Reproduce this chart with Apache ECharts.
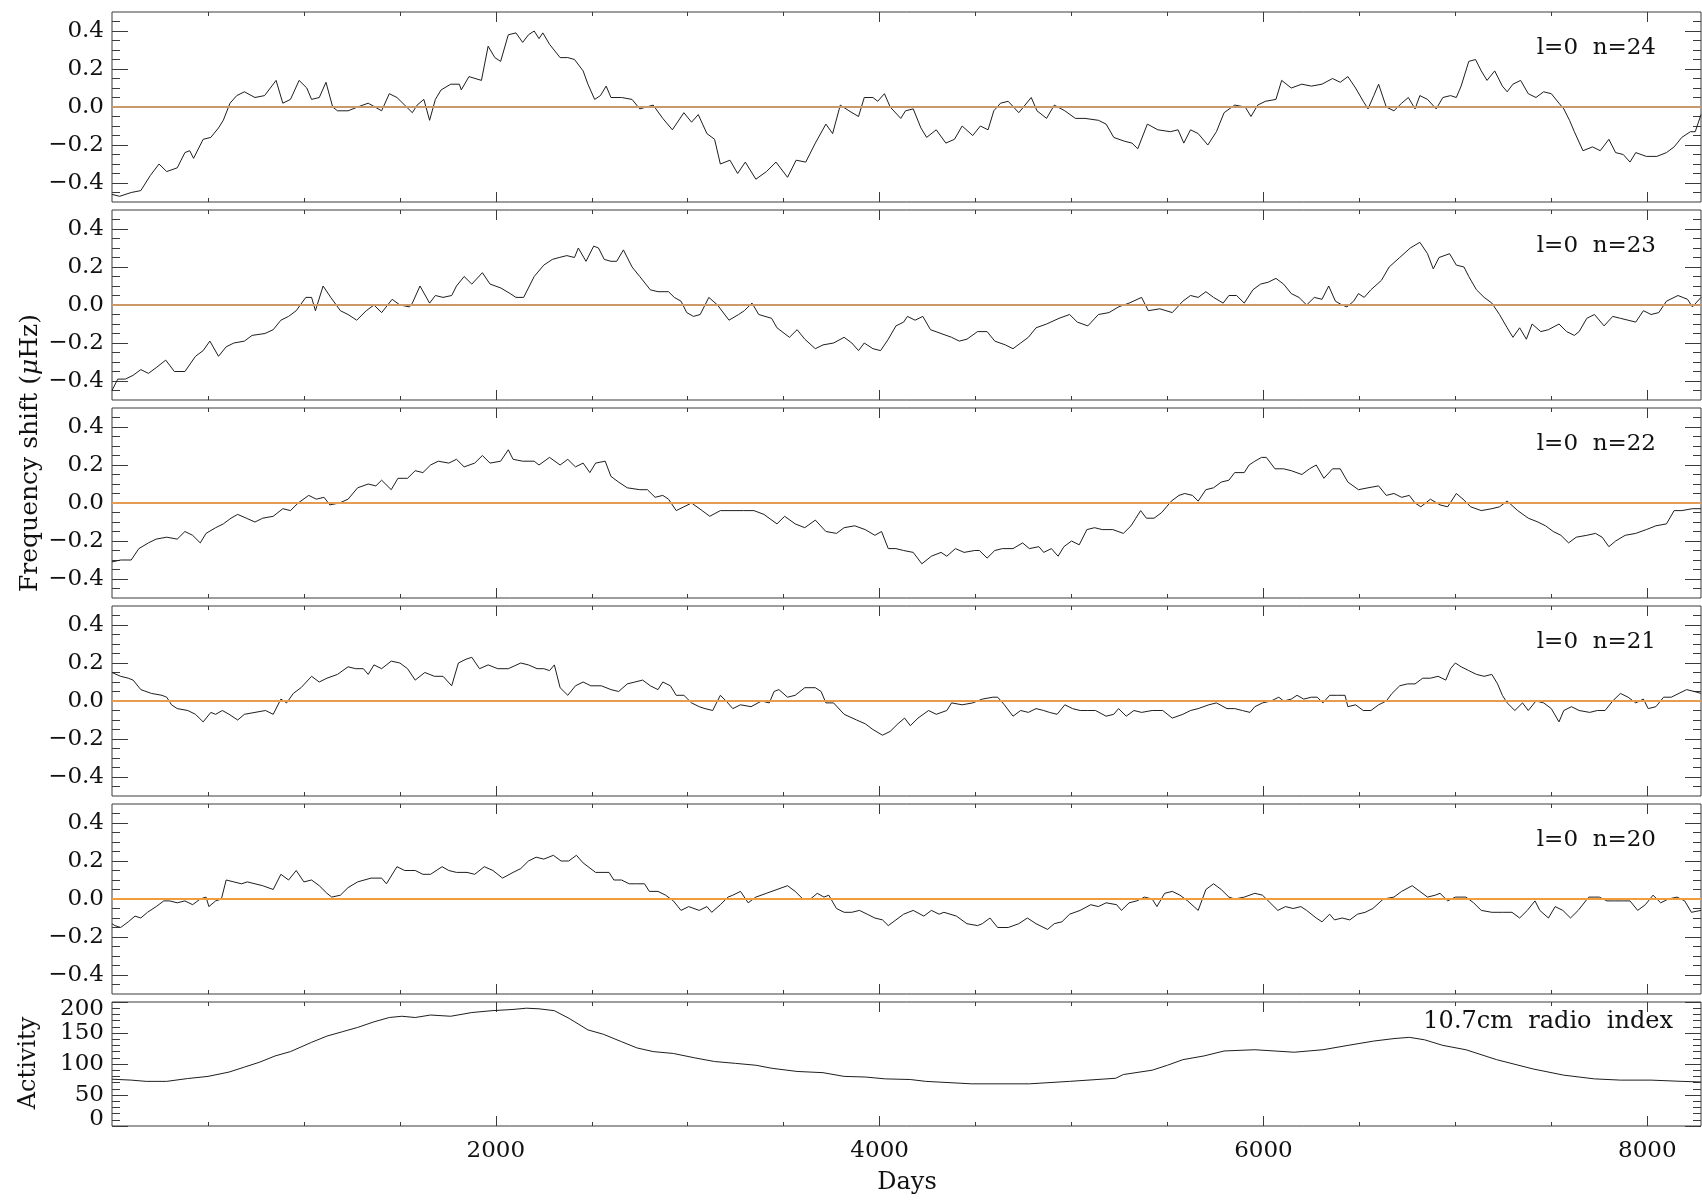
<!DOCTYPE html>
<html>
<head>
<meta charset="utf-8">
<title>Frequency shifts of l=0 modes and solar activity</title>
<script src="https://cdn.jsdelivr.net/npm/echarts@6/dist/echarts.min.js"></script>
<style>
  html, body { margin: 0; padding: 0; background: #fff; }
  #chart { width: 1702px; height: 1203px; }
</style>
</head>
<body>
<div id="chart"></div>
<script>
// ---- data: [day, frequency shift in microHz] ----
const n24 = [[0,-0.46],[40,-0.47],[100,-0.45],[150,-0.44],[200,-0.36],[245,-0.30],[285,-0.34],[340,-0.32],[380,-0.24],[405,-0.23],[425,-0.27],[475,-0.17],[515,-0.16],[555,-0.11],[580,-0.07],[615,0.02],[650,0.06],[690,0.08],[745,0.05],[795,0.06],[825,0.10],[855,0.14],[890,0.02],[930,0.04],[975,0.14],[1015,0.10],[1040,0.04],[1080,0.05],[1115,0.13],[1150,0.00],[1175,-0.02],[1230,-0.02],[1280,0.00],[1335,0.02],[1405,-0.02],[1445,0.07],[1485,0.05],[1525,0.01],[1565,-0.03],[1590,0.01],[1625,0.04],[1655,-0.07],[1685,0.04],[1715,0.09],[1765,0.12],[1810,0.12],[1820,0.09],[1860,0.16],[1925,0.14],[1960,0.32],[1995,0.26],[2025,0.24],[2065,0.38],[2105,0.39],[2140,0.34],[2170,0.38],[2200,0.40],[2225,0.36],[2245,0.39],[2280,0.33],[2335,0.26],[2375,0.26],[2410,0.25],[2455,0.19],[2480,0.12],[2515,0.04],[2545,0.06],[2575,0.11],[2600,0.05],[2655,0.05],[2710,0.04],[2750,-0.01],[2820,0.01],[2870,-0.06],[2920,-0.12],[2980,-0.03],[3020,-0.08],[3055,-0.04],[3100,-0.14],[3140,-0.17],[3170,-0.30],[3220,-0.28],[3260,-0.35],[3300,-0.29],[3355,-0.38],[3410,-0.34],[3460,-0.29],[3520,-0.37],[3565,-0.28],[3615,-0.29],[3665,-0.19],[3720,-0.09],[3755,-0.14],[3795,0.01],[3840,-0.02],[3890,-0.05],[3920,0.05],[3965,0.05],[3990,0.03],[4025,0.07],[4055,0.00],[4110,-0.06],
  [4135,-0.02],[4175,-0.01],[4215,-0.11],[4245,-0.16],[4295,-0.12],[4345,-0.19],[4390,-0.17],[4430,-0.10],[4485,-0.15],[4525,-0.10],[4565,-0.12],[4595,-0.02],[4630,0.02],[4670,0.03],[4725,-0.03],[4790,0.05],[4820,-0.02],[4870,-0.06],[4910,0.01],[4965,-0.02],[5020,-0.06],[5070,-0.06],[5140,-0.07],[5180,-0.09],[5220,-0.16],[5275,-0.18],[5315,-0.19],[5345,-0.22],[5395,-0.09],[5450,-0.12],[5515,-0.13],[5555,-0.12],[5585,-0.19],[5620,-0.12],[5660,-0.14],[5710,-0.20],[5755,-0.13],[5795,-0.03],[5850,0.01],[5905,0.00],[5935,-0.05],[5970,0.01],[6010,0.03],[6065,0.04],[6095,0.14],[6145,0.10],[6200,0.12],[6250,0.11],[6305,0.12],[6360,0.15],[6400,0.13],[6440,0.16],[6480,0.10],[6520,0.03],[6545,-0.01],[6575,0.06],[6600,0.12],[6640,0.00],[6680,-0.02],[6720,0.02],[6755,0.05],[6790,-0.01],[6815,0.06],[6855,0.04],[6900,-0.01],[6935,0.05],[6975,0.06],[7005,0.05],[7030,0.11],[7070,0.24],[7105,0.25],[7135,0.19],[7165,0.14],[7205,0.19],[7245,0.11],[7270,0.08],[7300,0.12],[7340,0.14],[7380,0.07],[7420,0.05],[7460,0.08],[7500,0.07],[7540,0.02],[7565,-0.01],[7595,-0.07],[7620,-0.13],[7665,-0.23],[7715,-0.21],[7755,-0.23],[7800,-0.17],[7835,-0.24],[7875,-0.25],[7910,-0.29],[7940,-0.24],[7995,-0.26],[8050,-0.26],[8100,-0.24],[8140,-0.21],[8180,-0.16],[8225,-0.13],[8250,-0.13],[8280,-0.04]];

const n23 = [[0,-0.45],[30,-0.39],[70,-0.39],[110,-0.37],[150,-0.34],[190,-0.36],[230,-0.33],[280,-0.29],[325,-0.35],[380,-0.35],[435,-0.27],[475,-0.24],[510,-0.19],[555,-0.27],[595,-0.22],[635,-0.20],[690,-0.19],[730,-0.16],[797,-0.15],[840,-0.13],[880,-0.08],[920,-0.06],[960,-0.03],[1010,0.04],[1040,0.04],[1060,-0.03],[1100,0.10],[1140,0.04],[1190,-0.03],[1230,-0.05],[1275,-0.08],[1325,-0.03],[1365,0.00],[1405,-0.04],[1460,0.03],[1500,0.00],[1550,-0.01],[1565,0.01],[1605,0.10],[1655,0.01],[1685,0.05],[1725,0.04],[1770,0.05],[1795,0.10],[1835,0.15],[1875,0.11],[1930,0.17],[1970,0.11],[2025,0.09],[2075,0.06],[2105,0.04],[2145,0.04],[2200,0.15],[2250,0.21],[2295,0.24],[2330,0.25],[2370,0.26],[2410,0.25],[2430,0.30],[2470,0.23],[2510,0.31],[2535,0.30],[2565,0.24],[2600,0.23],[2630,0.23],[2665,0.29],[2710,0.20],[2750,0.15],[2805,0.08],[2845,0.07],[2900,0.07],[2930,0.04],[2965,0.02],[2995,-0.04],[3030,-0.06],[3065,-0.05],[3110,0.04],[3155,0.00],[3215,-0.08],[3265,-0.05],[3295,-0.03],[3335,0.01],[3370,-0.05],[3437,-0.07],[3465,-0.12],[3530,-0.17],[3570,-0.13],[3610,-0.18],[3665,-0.23],[3705,-0.21],[3760,-0.20],[3815,-0.17],[3855,-0.20],[3890,-0.24],[3920,-0.20],[3965,-0.23],[4005,-0.24],[4045,-0.18],[4085,-0.11],[4125,-0.09],
  [4145,-0.06],[4185,-0.08],[4225,-0.06],[4265,-0.13],[4320,-0.15],[4375,-0.17],[4415,-0.19],[4455,-0.18],[4510,-0.14],[4560,-0.14],[4600,-0.19],[4655,-0.21],[4695,-0.23],[4735,-0.20],[4775,-0.17],[4815,-0.12],[4870,-0.10],[4935,-0.07],[4990,-0.05],[5030,-0.09],[5085,-0.11],[5140,-0.05],[5195,-0.04],[5245,-0.01],[5300,0.01],[5365,0.04],[5400,-0.03],[5460,-0.02],[5525,-0.04],[5580,0.02],[5620,0.05],[5660,0.04],[5700,0.07],[5740,0.04],[5790,0.01],[5820,0.05],[5860,0.05],[5900,0.01],[5945,0.08],[5985,0.11],[6025,0.12],[6065,0.14],[6105,0.11],[6145,0.06],[6185,0.04],[6225,0.00],[6265,0.04],[6305,0.03],[6340,0.10],[6375,0.02],[6410,0.00],[6435,-0.01],[6470,0.02],[6495,0.06],[6525,0.04],[6560,0.08],[6615,0.13],[6655,0.20],[6710,0.25],[6765,0.30],[6815,0.33],[6855,0.27],[6885,0.19],[6915,0.25],[6970,0.27],[7005,0.21],[7045,0.20],[7070,0.15],[7110,0.08],[7150,0.04],[7190,0.01],[7230,-0.05],[7270,-0.12],[7300,-0.17],[7335,-0.12],[7370,-0.18],[7400,-0.10],[7445,-0.14],[7485,-0.13],[7540,-0.10],[7580,-0.14],[7620,-0.16],[7645,-0.14],[7685,-0.07],[7725,-0.05],[7775,-0.11],[7820,-0.06],[7860,-0.07],[7900,-0.08],[7940,-0.09],[7980,-0.03],[8020,-0.05],[8060,-0.04],[8100,0.02],[8160,0.05],[8210,0.03],[8235,-0.01],[8280,0.04]];

const n22 = [[0,-0.31],[45,-0.30],[100,-0.30],[140,-0.24],[190,-0.21],[230,-0.19],[285,-0.18],[340,-0.19],[380,-0.15],[420,-0.17],[460,-0.21],[490,-0.16],[540,-0.13],[580,-0.11],[620,-0.08],[655,-0.06],[700,-0.08],[745,-0.10],[785,-0.08],[840,-0.07],[890,-0.03],[930,-0.04],[970,0.00],[1025,0.04],[1065,0.02],[1105,0.03],[1135,-0.01],[1185,0.00],[1230,0.02],[1280,0.08],[1335,0.10],[1375,0.09],[1405,0.12],[1455,0.07],[1490,0.13],[1540,0.13],[1580,0.17],[1620,0.16],[1660,0.20],[1700,0.22],[1755,0.21],[1795,0.23],[1835,0.19],[1890,0.21],[1930,0.25],[1970,0.21],[2025,0.22],[2065,0.28],[2090,0.23],[2140,0.22],[2200,0.22],[2225,0.20],[2280,0.24],[2335,0.20],[2375,0.23],[2415,0.19],[2455,0.21],[2490,0.16],[2520,0.21],[2570,0.22],[2600,0.14],[2640,0.11],[2685,0.08],[2750,0.07],[2790,0.07],[2830,0.03],[2870,0.04],[2900,0.02],[2940,-0.04],[2980,-0.02],[3020,0.00],[3075,-0.04],[3115,-0.07],[3170,-0.04],[3220,-0.04],[3290,-0.04],[3345,-0.04],[3397,-0.06],[3465,-0.11],[3505,-0.07],[3560,-0.11],[3610,-0.13],[3665,-0.09],[3720,-0.15],[3775,-0.16],[3815,-0.13],[3870,-0.12],[3925,-0.14],[3975,-0.17],[4010,-0.15],[4045,-0.24],[4085,-0.24],[4125,-0.25],
  [4135,-0.25],[4175,-0.26],[4220,-0.32],[4270,-0.28],[4320,-0.26],[4350,-0.28],[4395,-0.24],[4440,-0.26],[4495,-0.25],[4520,-0.25],[4560,-0.29],[4600,-0.25],[4640,-0.24],[4695,-0.24],[4745,-0.21],[4780,-0.24],[4830,-0.23],[4855,-0.26],[4895,-0.24],[4930,-0.28],[4960,-0.23],[5000,-0.20],[5040,-0.22],[5080,-0.14],[5120,-0.13],[5160,-0.14],[5215,-0.14],[5270,-0.16],[5310,-0.12],[5335,-0.08],[5360,-0.04],[5390,-0.08],[5430,-0.08],[5470,-0.05],[5495,-0.02],[5520,0.01],[5560,0.04],[5590,0.05],[5630,0.04],[5660,0.01],[5700,0.07],[5740,0.08],[5780,0.11],[5820,0.12],[5850,0.16],[5900,0.16],[5925,0.20],[5955,0.22],[5990,0.24],[6015,0.24],[6060,0.18],[6105,0.18],[6145,0.17],[6200,0.15],[6240,0.18],[6275,0.20],[6315,0.13],[6360,0.18],[6400,0.18],[6440,0.11],[6495,0.07],[6545,0.08],[6600,0.09],[6640,0.04],[6680,0.05],[6720,0.03],[6760,0.04],[6790,0.00],[6820,-0.02],[6870,0.02],[6920,-0.01],[6960,-0.02],[7005,0.05],[7040,0.02],[7080,-0.02],[7135,-0.04],[7190,-0.03],[7230,-0.02],[7270,0.01],[7325,-0.04],[7380,-0.08],[7430,-0.10],[7470,-0.12],[7510,-0.15],[7550,-0.17],[7590,-0.21],[7630,-0.18],[7685,-0.17],[7730,-0.16],[7765,-0.18],[7800,-0.23],[7835,-0.20],[7885,-0.17],[7940,-0.16],[7995,-0.14],[8045,-0.12],[8100,-0.11],[8140,-0.04],[8180,-0.04],[8235,-0.03],[8280,-0.03]];

const n21 = [[0,0.15],[45,0.13],[85,0.12],[110,0.11],[150,0.06],[205,0.04],[260,0.03],[285,0.02],[310,-0.02],[340,-0.04],[395,-0.05],[435,-0.07],[475,-0.11],[515,-0.06],[540,-0.07],[575,-0.05],[610,-0.07],[655,-0.10],[690,-0.07],[745,-0.06],[800,-0.05],[840,-0.07],[880,0.01],[910,-0.01],[945,0.04],[985,0.07],[1040,0.13],[1080,0.10],[1120,0.12],[1175,0.14],[1230,0.18],[1270,0.17],[1310,0.17],[1335,0.14],[1365,0.19],[1405,0.17],[1455,0.21],[1500,0.20],[1540,0.17],[1580,0.11],[1630,0.15],[1680,0.13],[1725,0.13],[1770,0.08],[1805,0.20],[1845,0.22],[1875,0.23],[1915,0.17],[1960,0.19],[2010,0.17],[2065,0.17],[2130,0.20],[2170,0.19],[2215,0.17],[2250,0.17],[2280,0.16],[2305,0.19],[2335,0.07],[2375,0.03],[2415,0.08],[2455,0.10],[2495,0.08],[2550,0.08],[2600,0.06],[2640,0.05],[2685,0.09],[2725,0.10],[2765,0.11],[2805,0.08],[2845,0.06],[2870,0.10],[2910,0.08],[2940,0.03],[2980,0.03],[3020,-0.01],[3060,-0.03],[3090,-0.04],[3130,-0.05],[3170,0.03],[3200,0.00],[3235,-0.04],[3275,-0.02],[3330,-0.03],[3385,0.00],[3425,-0.01],[3450,0.05],[3475,0.06],[3520,0.02],[3560,0.03],[3610,0.07],[3665,0.07],[3695,0.05],[3720,-0.01],[3760,-0.01],[3815,-0.07],[3880,-0.10],[3925,-0.12],[3965,-0.15],[4015,-0.18],[4055,-0.16],[4095,-0.12],[4130,-0.09],
  [4160,-0.13],[4200,-0.09],[4255,-0.05],[4295,-0.07],[4350,-0.05],[4375,-0.01],[4430,-0.02],[4485,-0.01],[4535,0.01],[4590,0.02],[4615,0.02],[4650,-0.02],[4695,-0.08],[4735,-0.05],[4775,-0.06],[4815,-0.04],[4855,-0.05],[4885,-0.06],[4925,-0.07],[4965,-0.02],[5005,-0.04],[5045,-0.05],[5085,-0.05],[5125,-0.05],[5180,-0.08],[5220,-0.07],[5245,-0.04],[5285,-0.08],[5325,-0.05],[5365,-0.06],[5420,-0.05],[5475,-0.05],[5525,-0.09],[5580,-0.07],[5620,-0.05],[5660,-0.04],[5715,-0.02],[5755,-0.01],[5810,-0.04],[5850,-0.04],[5890,-0.05],[5930,-0.06],[5955,-0.03],[5995,-0.01],[6040,0.00],[6080,0.02],[6105,0.00],[6145,0.01],[6175,0.03],[6210,0.01],[6250,0.02],[6280,0.02],[6310,-0.01],[6345,0.03],[6385,0.03],[6425,0.03],[6440,-0.03],[6480,-0.02],[6520,-0.05],[6560,-0.05],[6600,-0.02],[6640,0.00],[6670,0.04],[6710,0.08],[6750,0.09],[6790,0.09],[6830,0.12],[6870,0.12],[6910,0.13],[6950,0.11],[6975,0.17],[7000,0.20],[7030,0.18],[7070,0.16],[7110,0.14],[7150,0.13],[7190,0.14],[7220,0.09],[7245,0.03],[7270,-0.01],[7310,-0.05],[7350,-0.01],[7380,-0.05],[7420,0.00],[7460,-0.01],[7500,-0.04],[7540,-0.11],[7565,-0.05],[7605,-0.03],[7645,-0.05],[7700,-0.06],[7740,-0.05],[7780,-0.05],[7820,0.00],[7860,0.04],[7900,0.02],[7940,-0.01],[7980,0.01],[8005,-0.04],[8045,-0.03],[8085,0.02],[8125,0.02],[8165,0.04],[8205,0.06],[8245,0.05],[8280,0.04]];

const n20 = [[0,-0.13],[15,-0.14],[45,-0.15],[85,-0.12],[120,-0.09],[150,-0.10],[185,-0.07],[230,-0.04],[270,-0.01],[300,-0.01],[340,-0.02],[380,-0.01],[420,-0.03],[460,0.00],[490,0.01],[505,-0.04],[540,-0.01],[570,0.00],[595,0.10],[635,0.09],[675,0.08],[705,0.09],[745,0.08],[785,0.07],[840,0.05],[880,0.13],[920,0.10],[960,0.15],[1000,0.09],[1040,0.10],[1080,0.07],[1120,0.03],[1145,0.01],[1190,0.02],[1230,0.06],[1280,0.09],[1350,0.11],[1405,0.11],[1430,0.08],[1485,0.17],[1525,0.15],[1580,0.15],[1620,0.13],[1660,0.13],[1720,0.17],[1755,0.15],[1795,0.14],[1850,0.14],[1890,0.13],[1940,0.17],[1985,0.15],[2035,0.11],[2090,0.14],[2130,0.16],[2170,0.20],[2210,0.22],[2250,0.21],[2300,0.23],[2340,0.20],[2380,0.20],[2420,0.23],[2455,0.19],[2520,0.14],[2590,0.14],[2615,0.10],[2655,0.10],[2695,0.08],[2735,0.08],[2775,0.08],[2800,0.04],[2845,0.04],[2885,0.02],[2925,-0.01],[2965,-0.06],[3005,-0.04],[3060,-0.06],[3100,-0.04],[3125,-0.07],[3170,-0.03],[3210,0.01],[3235,0.02],[3275,0.04],[3315,-0.02],[3355,0.01],[3410,0.03],[3465,0.05],[3520,0.07],[3560,0.04],[3600,0.00],[3640,0.00],[3675,0.03],[3710,0.01],[3735,0.02],[3775,-0.05],[3815,-0.07],[3855,-0.07],[3895,-0.06],[3935,-0.08],[3975,-0.10],[4015,-0.11],[4045,-0.14],[4085,-0.11],[4125,-0.08],
  [4175,-0.06],[4230,-0.09],[4270,-0.06],[4310,-0.08],[4335,-0.07],[4400,-0.09],[4455,-0.13],[4510,-0.14],[4535,-0.13],[4575,-0.10],[4615,-0.15],[4670,-0.15],[4725,-0.13],[4770,-0.10],[4815,-0.13],[4875,-0.16],[4910,-0.13],[4950,-0.12],[4990,-0.08],[5045,-0.06],[5100,-0.03],[5140,-0.04],[5180,-0.02],[5235,-0.03],[5260,-0.06],[5300,-0.02],[5340,-0.01],[5380,0.01],[5420,0.00],[5445,-0.04],[5485,0.03],[5525,0.04],[5565,0.02],[5605,-0.01],[5660,-0.06],[5700,0.05],[5740,0.08],[5780,0.05],[5820,0.01],[5850,0.00],[5900,0.01],[5955,0.03],[5995,0.02],[6035,-0.02],[6075,-0.06],[6115,-0.04],[6155,-0.05],[6195,-0.04],[6225,-0.06],[6275,-0.10],[6305,-0.12],[6345,-0.08],[6370,-0.11],[6410,-0.10],[6450,-0.11],[6490,-0.08],[6530,-0.07],[6570,-0.05],[6625,0.00],[6680,0.01],[6720,0.04],[6775,0.07],[6815,0.04],[6855,0.01],[6895,0.02],[6920,0.03],[6960,-0.01],[7000,0.01],[7055,0.01],[7095,-0.02],[7135,-0.06],[7190,-0.07],[7245,-0.07],[7295,-0.07],[7335,-0.10],[7375,-0.06],[7415,-0.01],[7440,-0.06],[7485,-0.10],[7520,-0.04],[7560,-0.06],[7600,-0.10],[7640,-0.06],[7695,0.01],[7750,0.01],[7790,-0.01],[7830,-0.01],[7870,-0.01],[7910,-0.01],[7950,-0.06],[7990,-0.03],[8030,0.02],[8070,-0.02],[8110,0.00],[8155,0.01],[8195,-0.01],[8230,-0.07],[8280,-0.06]];

// 10.7 cm radio flux index: [day, flux]
const radioIndex = [[0,75.5],[100,74],[178,72],[285,72],[393,76.5],[500,80],[610,87],[690,95],[770,103],[850,113],[930,120],[1040,135],[1120,145],[1200,152],[1280,159],[1365,168],[1445,175],[1510,177],[1580,175],[1660,179],[1765,177],[1875,183],[1980,186],[2090,188],[2160,190],[2225,189],[2305,186],[2385,173],[2480,155],[2560,148],[2655,136],[2735,126],[2820,120],[2925,117],[3035,110],[3140,104],[3250,101],[3355,98],[3440,93],[3570,88],[3705,86],[3815,80],[3925,79],[4030,76],[4160,75],
  [4240,72],[4480,68],[4780,68],[4990,72],[5230,77],[5270,83],[5420,90],[5500,98],[5580,107],[5690,113],[5795,121],[5955,123],[6160,119],[6310,123],[6440,130],[6575,137],[6680,141],[6760,143],[6840,139],[6935,130],[7055,123],[7215,107],[7405,92],[7565,82],[7725,76],[7860,74],[8020,74],[8180,72],[8280,71]];

const modeSeries = [n24, n23, n22, n21, n20];
const modeLabels = ['l=0  n=24', 'l=0  n=23', 'l=0  n=22', 'l=0  n=21', 'l=0  n=20'];
const zeroColors = ['#c9986b', '#cc986a', '#e49b52', '#e89b4c', '#f39c3c'];

// ---- axis ticks and labels ----
const X_MAX = 8280;
const xMajorTicks = [2000, 4000, 6000, 8000];
const xMinorTicks = [500, 1000, 1500, 2500, 3000, 3500, 4500, 5000, 5500, 6500, 7000, 7500];
const xTickLabels = [2000, 4000, 6000, 8000];
const shiftMajorTicks = [-0.4, -0.2, 0, 0.2, 0.4];
const shiftMinorTicks = [-0.45, -0.35, -0.3, -0.25, -0.15, -0.1, -0.05, 0.05, 0.1, 0.15, 0.25, 0.3, 0.35, 0.45];
const activityMajorTicks = [0, 50, 100, 150, 200];
const activityMinorTicks = [10, 20, 30, 40, 60, 70, 80, 90, 110, 120, 130, 140, 160, 170, 180, 190];

const FONT = 'DejaVu Serif';
const FS = 23;
const INK = '#111';
const FRAME = '#3a3a3a';
const PLOT_LEFT = 112;
const PLOT_WIDTH = 1589;
const PANEL_TOPS = [12, 210, 408, 606, 804];
const PANEL_H = 190;
const ACT_TOP = 1002;
const ACT_H = 124;

const grids = [], xAxes = [], yAxes = [], series = [], graphics = [];

function tickStyle(len, values) {
  return { show: true, inside: true, length: len, customValues: values,
           lineStyle: { color: FRAME, width: 1 } };
}

function addXAxes(g, withLabels) {
  const base = { gridIndex: g, type: 'value', min: 0, max: X_MAX,
                 axisLine: { show: false, onZero: false }, splitLine: { show: false },
                 axisLabel: { show: false } };
  xAxes.push(Object.assign({}, base, {
    position: 'bottom', axisTick: tickStyle(10, xMajorTicks),
    axisLabel: withLabels
      ? { show: true, customValues: xTickLabels, margin: 14, fontFamily: FONT,
          fontSize: FS, color: INK, formatter: v => String(v) }
      : { show: false }
  }));
  xAxes.push(Object.assign({}, base, { position: 'bottom', axisTick: tickStyle(4, xMinorTicks) }));
  xAxes.push(Object.assign({}, base, { position: 'top', axisTick: tickStyle(10, xMajorTicks) }));
  xAxes.push(Object.assign({}, base, { position: 'top', axisTick: tickStyle(4, xMinorTicks) }));
}

function addYAxes(g, min, max, majors, minors, labelFmt, extraLabel) {
  const base = { gridIndex: g, type: 'value', min: min, max: max,
                 axisLine: { show: false, onZero: false }, splitLine: { show: false },
                 axisLabel: { show: false } };
  yAxes.push(Object.assign({}, base, {
    position: 'left', axisTick: tickStyle(16, majors),
    axisLabel: Object.assign({ show: true, customValues: majors, margin: 8,
      showMinLabel: true, showMaxLabel: true,
      fontFamily: FONT, fontSize: FS, color: INK, formatter: labelFmt }, extraLabel || {})
  }));
  yAxes.push(Object.assign({}, base, { position: 'left', axisTick: tickStyle(8, minors) }));
  yAxes.push(Object.assign({}, base, { position: 'right', axisTick: tickStyle(16, majors) }));
  yAxes.push(Object.assign({}, base, { position: 'right', axisTick: tickStyle(8, minors) }));
}

const shiftFmt = v => (v < 0 ? '\u2212' : '') + Math.abs(v).toFixed(1);

// five frequency-shift panels
modeSeries.forEach((data, i) => {
  const top = PANEL_TOPS[i];
  grids.push({ left: PLOT_LEFT, top: top, width: PLOT_WIDTH, height: PANEL_H,
               show: true, borderColor: FRAME, borderWidth: 1, backgroundColor: 'transparent' });
  addXAxes(i, false);
  addYAxes(i, -0.5, 0.5, shiftMajorTicks, shiftMinorTicks, shiftFmt);
  series.push({
    type: 'line', xAxisIndex: i * 4, yAxisIndex: i * 4, data: data,
    showSymbol: false, symbol: 'none', silent: true,
    lineStyle: { color: '#1e1e1e', width: 1 },
    markLine: {
      silent: true, symbol: 'none', animation: false,
      label: { show: false },
      lineStyle: { color: zeroColors[i], width: 2, type: 'solid' },
      data: [{ yAxis: 0 }]
    }
  });
  graphics.push({
    type: 'text', x: 1656, y: top + 36,
    style: { text: modeLabels[i], fill: INK, font: FS + 'px "' + FONT + '"',
             align: 'right', verticalAlign: 'middle' }
  });
});

// solar activity panel; a short line box keeps the end labels just inside the frame
const ag = modeSeries.length;
grids.push({ left: PLOT_LEFT, top: ACT_TOP, width: PLOT_WIDTH, height: ACT_H,
             show: true, borderColor: FRAME, borderWidth: 1, backgroundColor: 'transparent' });
addXAxes(ag, true);
addYAxes(ag, 0, 200, activityMajorTicks, activityMinorTicks, v => String(v),
         { lineHeight: 14, verticalAlignMinLabel: 'bottom', verticalAlignMaxLabel: 'top' });
series.push({
  type: 'line', xAxisIndex: ag * 4, yAxisIndex: ag * 4, data: radioIndex,
  showSymbol: false, symbol: 'none', silent: true,
  lineStyle: { color: '#1e1e1e', width: 1 }
});
graphics.push({
  type: 'text', x: 1673, y: ACT_TOP + 20,
  style: { text: '10.7cm  radio  index', fill: INK, font: '24px "' + FONT + '"',
           align: 'right', verticalAlign: 'middle' }
});

// axis titles
graphics.push({
  type: 'text', x: 30, y: 453, rotation: Math.PI / 2,
  style: {
    text: '{a|Frequency shift (}{m|\u03bc}{a|Hz)}',
    align: 'center', verticalAlign: 'middle',
    rich: {
      a: { fontFamily: FONT, fontSize: 25, fill: INK, color: INK },
      m: { fontFamily: FONT, fontSize: 25, fontStyle: 'italic', fill: INK, color: INK }
    }
  }
});
graphics.push({
  type: 'text', x: 29, y: 1063, rotation: Math.PI / 2,
  style: { text: 'Activity', fill: INK, font: '24px "' + FONT + '"',
           align: 'center', verticalAlign: 'middle' }
});
graphics.push({
  type: 'text', x: 907, y: 1183,
  style: { text: 'Days', fill: INK, font: '24px "' + FONT + '"',
           align: 'center', verticalAlign: 'middle' }
});

const chart = echarts.init(document.getElementById('chart'), null, { renderer: 'canvas' });
chart.setOption({
  backgroundColor: '#ffffff',
  animation: false,
  grid: grids,
  xAxis: xAxes,
  yAxis: yAxes,
  series: series,
  graphic: graphics
});
</script>
</body>
</html>
